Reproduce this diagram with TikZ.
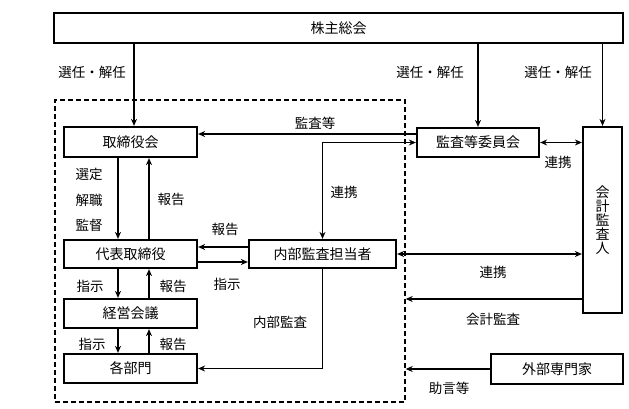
\documentclass[tikz,border=0pt]{standalone}
\usepackage{fontspec}
\setmainfont{Noto Sans CJK JP}
\usetikzlibrary{arrows.meta,calc}
\tikzset{
  box/.style={draw, line width=2.2pt, inner sep=0pt, font=\fontsize{14}{16}\selectfont},
  grpbox/.style={draw, line width=1.4pt, dash pattern=on 5pt off 3pt, inner sep=0pt},
  arr/.style={line width=1.1pt, -{Stealth[length=7pt,width=6pt]}},
  arrb/.style={line width=1.1pt, {Stealth[length=7pt,width=6pt]}-{Stealth[length=7pt,width=6pt]}},
  lbl/.style={font=\fontsize{13.5}{15}\selectfont, inner sep=0pt}
}
\begin{document}
\begin{tikzpicture}[x=1pt,y=-1pt]
\useasboundingbox (0,0) rectangle (629,409);
% group
\node[grpbox, minimum width=350pt, minimum height=302pt] (grp) at (230,251) {};
% boxes
\node[box, minimum width=569pt, minimum height=30pt] (top) at (338.5,28) {株主総会};
\node[box, minimum width=133pt, minimum height=30pt] (tori) at (130.5,142) {取締役会};
\node[box, minimum width=122pt, minimum height=29pt] (kansa) at (478,142.5) {監査等委員会};
\node[box, minimum width=39pt, minimum height=186pt, align=center, font=\fontsize{14}{14}\selectfont] (kaikei) at (602.5,220) {会\\計\\監\\査\\人};
\node[box, minimum width=133pt, minimum height=28pt] (daihyo) at (130.5,254) {代表取締役};
\node[box, minimum width=147pt, minimum height=28pt] (naibu) at (322.5,254) {内部監査担当者};
\node[box, minimum width=133pt, minimum height=29pt] (keiei) at (130.5,313.5) {経営会議};
\node[box, minimum width=133pt, minimum height=29pt] (kakubu) at (130.5,368.5) {各部門};
\node[box, minimum width=132pt, minimum height=30pt] (gaibu) at (557,369) {外部専門家};
% helper coordinates
\coordinate (xa) at (134,0);
\coordinate (xl) at (118,0);
\coordinate (xr) at (149,0);
\coordinate (ya) at (0,134);
\coordinate (yb) at (0,247);
\coordinate (yc) at (0,262);
\coordinate (yd) at (0,299);
% connectors
\draw[arr] (top.south -| xa) -- (tori.north -| xa);
\draw[arr] (top.south -| kansa) -- (kansa.north);
\draw[arr] (top.south -| kaikei) -- (kaikei.north);
\draw[arr] (kansa.west |- ya) -- (tori.east |- ya);
\draw[arrb] (naibu.north) |- (kansa.west);
\draw[arrb] (kansa.east) -- (kansa.east -| kaikei.west);
\draw[arr] (tori.south -| xl) -- (daihyo.north -| xl);
\draw[arr] (daihyo.north -| xr) -- (tori.south -| xr);
\draw[arr] (naibu.west |- yb) -- (daihyo.east |- yb);
\draw[arr] (daihyo.east |- yc) -- (naibu.west |- yc);
\draw[arrb] (naibu.east) -- (naibu.east -| kaikei.west);
\draw[arr] (daihyo.south -| xl) -- (keiei.north -| xl);
\draw[arr] (keiei.north -| xr) -- (daihyo.south -| xr);
\draw[arr] (keiei.south -| xl) -- (kakubu.north -| xl);
\draw[arr] (kakubu.north -| xr) -- (keiei.south -| xr);
\draw[arr] (naibu.south) |- (kakubu.east);
\draw[arr] (kaikei.west |- yd) -- (grp.east |- yd);
\draw[arr] (gaibu.west) -- (gaibu.west -| grp.east);
% labels
\node[lbl] (l1) at (92,72) {選任・解任};
\node[lbl] (l2) at (430,72) {選任・解任};
\node[lbl] (l3) at (558,72) {選任・解任};
\node[lbl] (l4) at (315,123) {監査等};
\node[lbl] (l5) at (344,192) {連携};
\node[lbl] (l6) at (558,162) {連携};
\node[lbl] (l7) at (493,272) {連携};
\node[lbl] (l8) at (493,319) {会計監査};
\node[lbl] (l9) at (449,388) {助言等};
\node[lbl] (l10) at (89,174) {選定};
\node[lbl] (l11) at (89,200) {解職};
\node[lbl] (l12) at (89,225) {監督};
\node[lbl] (l13) at (171,199) {報告};
\node[lbl] (l14) at (225,229) {報告};
\node[lbl] (l15) at (227,284) {指示};
\node[lbl] (l16) at (90,286) {指示};
\node[lbl] (l17) at (173,286) {報告};
\node[lbl] (l18) at (92,344) {指示};
\node[lbl] (l19) at (173,344) {報告};
\node[lbl] (l20) at (280,322) {内部監査};
\end{tikzpicture}
\end{document}
